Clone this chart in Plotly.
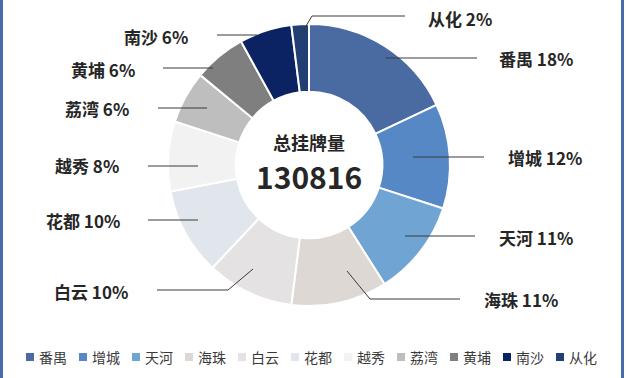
import plotly.graph_objects as go

# ---- data ----
districts = ["番禺", "增城", "天河", "海珠", "白云", "花都", "越秀", "荔湾", "黄埔", "南沙", "从化"]
shares = [18, 12, 11, 11, 10, 10, 8, 6, 6, 6, 2]
total_listings = 130816
center_title = "总挂牌量"

# ---- style ----
colors = ["#4A6BA2", "#5688C6", "#70A5D3", "#DDD8D3", "#E4E2E2", "#E1E5EC",
          "#F2F2F2", "#BEBEBE", "#7F7F7F", "#0B2263", "#213F74"]
W, H = 626, 378
FONT = "Noto Sans CJK SC"
TXT = "#262626"
LINE = "#3a3a3a"

# label layout (pixel positions): text left x, text y, leader polyline points
label_layout = {
    "番禺": (497, 59, [(477, 58), (386, 58)]),
    "增城": (506, 158, [(484, 157), (413, 157)]),
    "天河": (497, 237, [(475, 236), (405, 236)]),
    "海珠": (482, 299, [(460, 299), (370, 299), (347, 271)]),
    "白云": (52, 291, [(157, 290), (228, 290), (253, 269)]),
    "花都": (44, 220, [(148, 220), (198, 220)]),
    "越秀": (53, 166, [(148, 166), (198, 166)]),
    "荔湾": (63, 108, [(158, 108), (207, 108)]),
    "黄埔": (69, 69, [(163, 68), (213, 68)]),
    "南沙": (122, 36, [(217, 35), (257, 35)]),
    "从化": (426, 18, [(405, 16), (312, 16), (300, 36)]),
}

# legend layout (pixels)
LEG_X0, LEG_STEP, LEG_Y, LEG_BOX = 26, 53, 357, 8


def px(x):
    return x / W


def py(y):
    return 1 - y / H


fig = go.Figure()
fig.add_trace(go.Pie(
    labels=districts,
    values=shares,
    hole=0.52,
    sort=False,
    direction="clockwise",
    rotation=0,
    marker=dict(colors=colors, line=dict(color="white", width=2)),
    textinfo="none",
    hoverinfo="label+percent",
    showlegend=False,
    domain=dict(x=[px(168), px(450)], y=[py(306), py(24)]),
))

shapes = []
annotations = []
for i, (name, val, col) in enumerate(zip(districts, shares, colors)):
    tx, ty, pts = label_layout[name]
    for (x0, y0), (x1, y1) in zip(pts[:-1], pts[1:]):
        shapes.append(dict(type="line", xref="paper", yref="paper",
                           x0=px(x0), y0=py(y0), x1=px(x1), y1=py(y1),
                           line=dict(color=LINE, width=1)))
    annotations.append(dict(
        x=px(tx), y=py(ty), xref="paper", yref="paper",
        xanchor="left", yanchor="middle", showarrow=False,
        text=f"<b>{name} {val}%</b>",
        font=dict(family=FONT, size=17, color=TXT),
    ))
    # legend entry
    lx = LEG_X0 + i * LEG_STEP
    shapes.append(dict(type="rect", xref="paper", yref="paper",
                       x0=px(lx), x1=px(lx + LEG_BOX),
                       y0=py(LEG_Y + LEG_BOX / 2), y1=py(LEG_Y - LEG_BOX / 2),
                       fillcolor=col, line=dict(width=0)))
    annotations.append(dict(
        x=px(lx + LEG_BOX + 3), y=py(LEG_Y), xref="paper", yref="paper",
        xanchor="left", yanchor="middle", showarrow=False,
        text=name, font=dict(family=FONT, size=14, color="#3a3a3a"),
    ))

annotations.append(dict(x=px(309), y=py(142), xref="paper", yref="paper",
                        showarrow=False, text=f"<b>{center_title}</b>",
                        font=dict(family=FONT, size=18, color=TXT)))
annotations.append(dict(x=px(309), y=py(176), xref="paper", yref="paper",
                        showarrow=False, text=f"<b>{total_listings}</b>",
                        font=dict(family=FONT, size=30, color=TXT)))

# side border lines
for bx in (1.5, 622.5):
    shapes.append(dict(type="line", xref="paper", yref="paper",
                       x0=px(bx), x1=px(bx), y0=0, y1=1,
                       line=dict(color="#4A6AA8", width=3)))

fig.update_layout(
    width=W, height=H,
    margin=dict(l=0, r=0, t=0, b=0),
    paper_bgcolor="white", plot_bgcolor="white",
    showlegend=False,
    shapes=shapes,
    annotations=annotations,
    font=dict(family=FONT),
)

fig.write_html("out.html", config={"displayModeBar": False},
               post_script="document.body.style.margin='0';")
